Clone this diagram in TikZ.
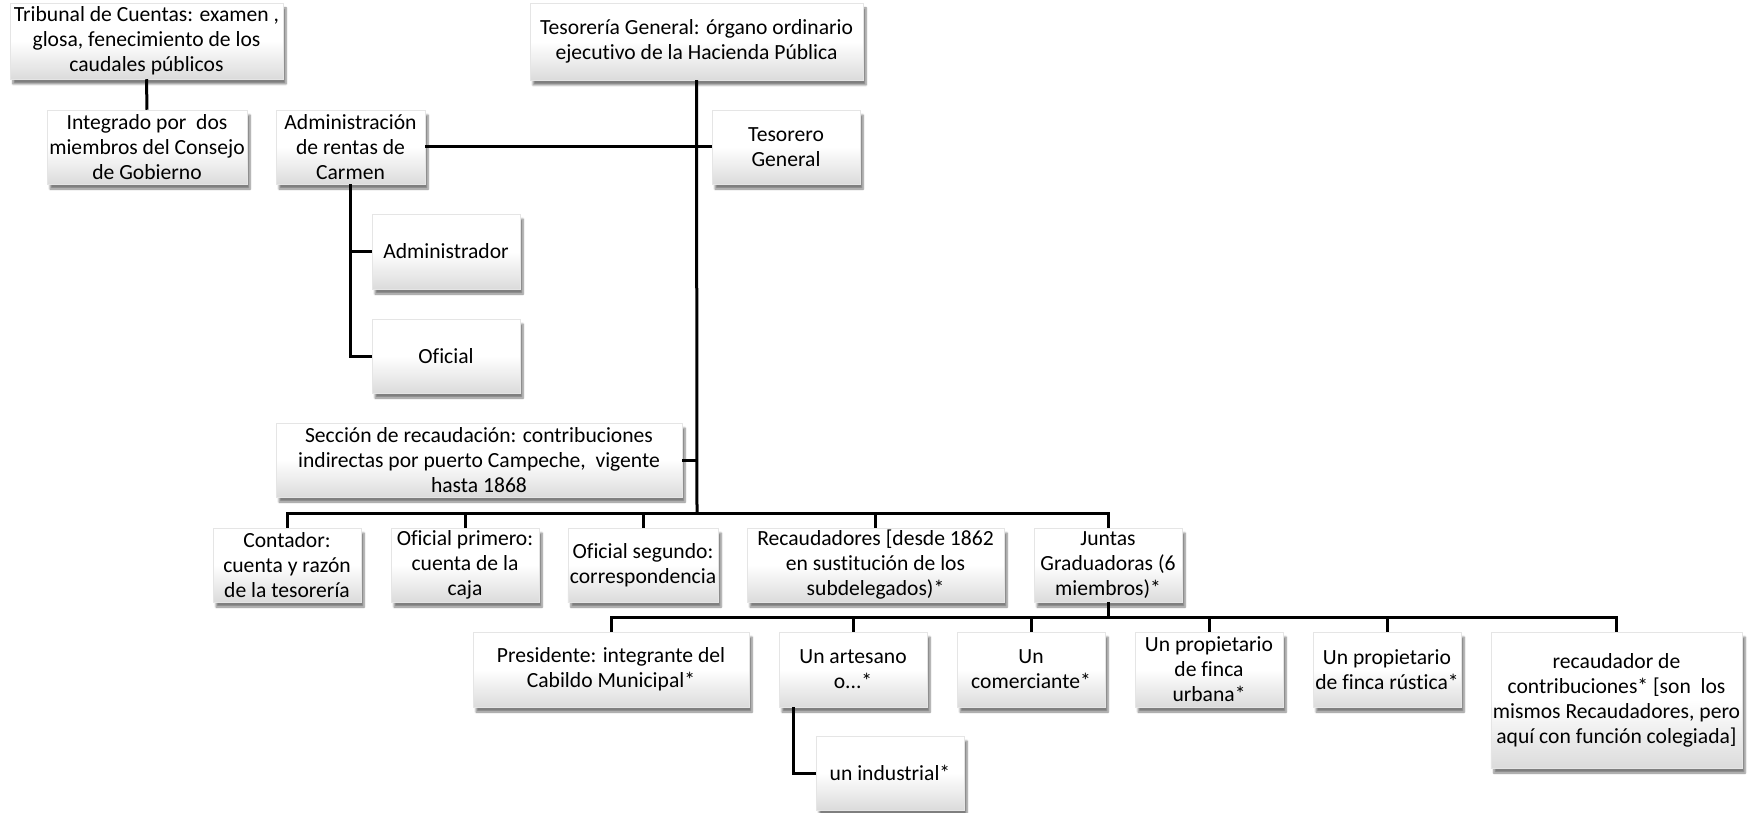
\documentclass[tikz,border=0pt]{standalone}
\usepackage{fontspec}
\setmainfont{Carlito}[Ligatures=NoCommon]
\usetikzlibrary{shadows.blur}
\tikzset{
  box/.style={rectangle, align=center, inner sep=2pt,
    top color=white, bottom color=black!14, middle color=white, draw=black!10, line width=0.5pt,
    blur shadow={shadow xshift=3pt, shadow yshift=-5pt, shadow blur steps=6, shadow opacity=50},
    font=\fontsize{21.6}{25}\selectfont, text=black},
  w148/.style={minimum width=148pt, minimum height=74pt},
  link/.style={line width=3pt, draw=black}
}
\begin{document}
\begin{tikzpicture}[x=1pt,y=-1pt]
\useasboundingbox (0,0) rectangle (1758,813);
% nodes
\node[box, minimum width=273pt, minimum height=76pt] (tribunal) at (146.5,41) {Tribunal de Cuentas: examen ,\\glosa, fenecimiento de los\\caudales públicos};
\node[box, minimum width=333pt, minimum height=77pt] (tesoreria) at (696.5,41.5) {Tesorería General: órgano ordinario\\ejecutivo de la Hacienda Pública};
\node[box, minimum width=200pt, minimum height=74pt] (integrado) at (147,147) {Integrado por\ \ dos\\miembros del Consejo\\de Gobierno};
\node[box, minimum width=149pt, minimum height=74pt] (admin) at (350.5,147) {Administración\\de rentas de\\Carmen};
\node[box, w148] (tesorero) at (786,147) {Tesorero\\General};
\node[box, minimum width=148pt, minimum height=75pt] (administrador) at (446,251.5) {Administrador};
\node[box, w148] (oficial) at (446,356) {Oficial};
\node[box, minimum width=406pt, minimum height=74pt] (seccion) at (479,460) {Sección de recaudación: contribuciones\\indirectas por puerto Campeche,\ \ vigente\\hasta 1868};
\node[box, w148] (contador) at (287,565) {Contador:\\cuenta y razón\\de la tesorería};
\node[box, w148] (ofprim) at (465,565) {Oficial primero:\\cuenta de la\\caja};
\node[box, w148] (ofseg) at (643,565) {Oficial segundo:\\correspondencia};
\node[box, minimum width=257pt, minimum height=74pt] (recaud) at (875.5,565) {Recaudadores [desde 1862\\en sustitución de los\\subdelegados)*};
\node[box, w148] (juntas) at (1108,565) {Juntas\\Graduadoras (6\\miembros)*};
\node[box, minimum width=276pt, minimum height=75pt] (presidente) at (611,669.5) {Presidente: integrante del\\Cabildo Municipal*};
\node[box, minimum width=148pt, minimum height=75pt] (artesano) at (853,669.5) {Un artesano\\o...*};
\node[box, minimum width=148pt, minimum height=75pt] (comerciante) at (1031,669.5) {Un\\comerciante*};
\node[box, minimum width=148pt, minimum height=75pt] (urbana) at (1209,669.5) {Un propietario\\de finca\\urbana*};
\node[box, minimum width=148pt, minimum height=75pt] (rustica) at (1387,669.5) {Un propietario\\de finca rústica*};
\node[box, minimum width=251pt, minimum height=136pt] (recaudador) at (1616.5,700) {recaudador de\\contribuciones* [son\ \ los\\mismos Recaudadores, pero\\aquí con función colegiada]};
\node[box, w148] (industrial) at (890,773) {un industrial*};
% coordinates
\coordinate (b1) at (697,513);
\coordinate (b2) at (1108,617);
% connectors
\draw[link] (tribunal.south) -- (integrado.north);
\draw[link] (tesoreria.south) -- (b1);
\draw[link] (admin.east) -- (tesorero.west);
\draw[link] (admin.south) |- (oficial.west);
\draw[link] (administrador.west) -| (admin.south);
\draw[link] (seccion.east) -- (seccion.east -| b1);
\draw[link] (contador.north) -- (contador.north |- b1) -- (juntas.north |- b1) -- (juntas.north);
\draw[link] (ofprim.north) -- (ofprim.north |- b1);
\draw[link] (ofseg.north) -- (ofseg.north |- b1);
\draw[link] (recaud.north) -- (recaud.north |- b1);
\draw[link] (juntas.south) -- (b2);
\draw[link] (presidente.north) -- (presidente.north |- b2) -- (recaudador.north |- b2) -- (recaudador.north);
\draw[link] (artesano.north) -- (artesano.north |- b2);
\draw[link] (comerciante.north) -- (comerciante.north |- b2);
\draw[link] (urbana.north) -- (urbana.north |- b2);
\draw[link] (rustica.north) -- (rustica.north |- b2);
\draw[link] ([xshift=15pt]artesano.south west) |- (industrial.west);
\end{tikzpicture}
\end{document}
